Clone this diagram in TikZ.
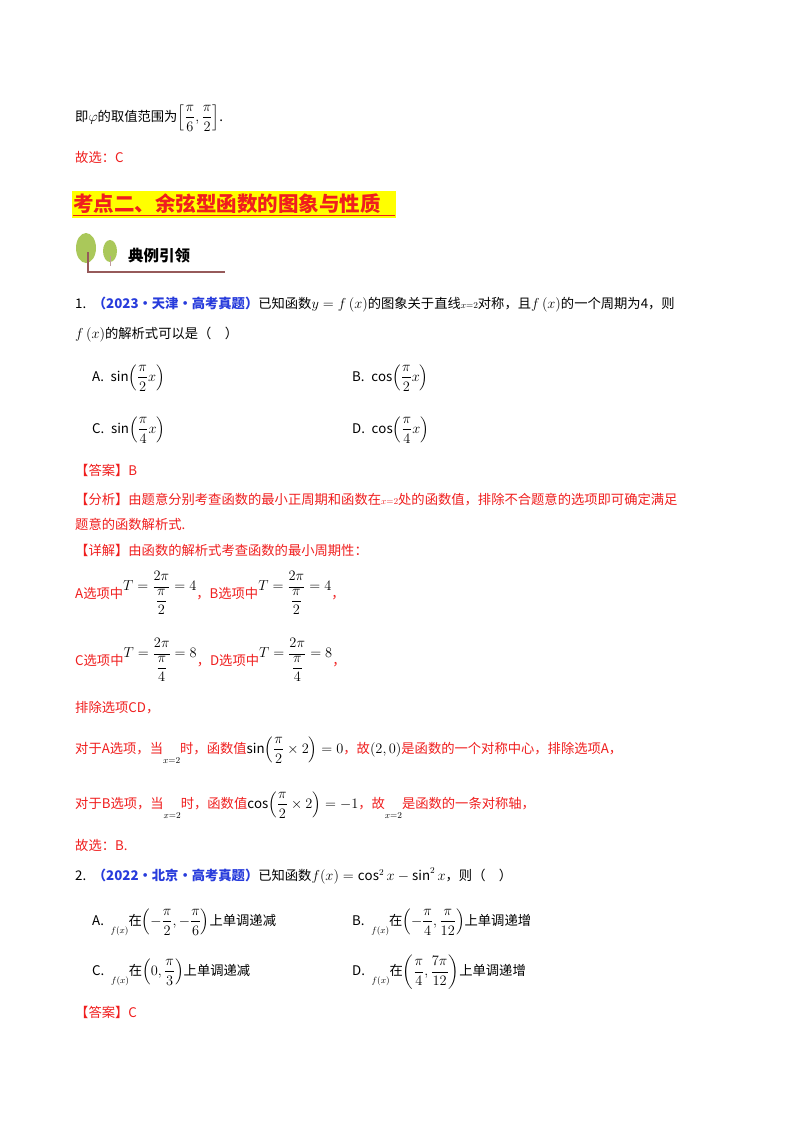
\documentclass[tikz,border=0pt]{standalone}
\usepackage{amsmath}
\usepackage{fontspec}
\setmainfont{Noto Sans CJK SC}
\definecolor{rd}{RGB}{240,30,30}
\definecolor{bl}{RGB}{40,60,220}
\definecolor{yl}{RGB}{255,255,0}
\definecolor{lf}{RGB}{170,200,90}
\definecolor{tr}{RGB}{150,90,90}
\begin{document}
\begin{tikzpicture}[x=1pt,y=-1pt,
  t/.style={anchor=west,inner sep=0pt,font=\fontsize{13.3}{15}\selectfont},
  r/.style={t,text=rd}]
\useasboundingbox (0,0) rectangle (800,1132);
\fill[white] (0,0) rectangle (800,1132);
\node[t] (l1) at (75,118) {即$\varphi$的取值范围为$\left[\dfrac{\pi}{6},\dfrac{\pi}{2}\right]$.};
\node[r] (l2) at (75,157) {故选：C};
\fill[yl] (72,191) rectangle (396,218);
\node[t,font=\fontsize{20.5}{22}\selectfont\bfseries,text=rd] (h) at (73,204) {考点二、余弦型函数的图象与性质};
\draw[rd,line width=1pt] (73,215) -- (395,215);
% icon
\fill[lf] (86,248) ellipse (10 and 15);
\fill[lf] (110,251) ellipse (7 and 11);
\draw[tr,line width=1.2pt] (88,252) -- (88,272) -- (225,272);
\draw[tr!60,line width=1pt] (110,256) -- (110,266);
\node[t,font=\fontsize{15.5}{17}\selectfont\bfseries] (ic) at (128,256) {典例引领};
% Q1
\node[t] (q1) at (75,305) {1.\enspace{\color{bl}\bfseries（2023·天津·高考真题）}已知函数$y=f\left(x\right)$的图象关于直线${\scriptstyle x=2}$对称，且$f\left(x\right)$的一个周期为4，则};
\node[t] (q1b) at (75,335) {$f\left(x\right)$的解析式可以是（\quad）};
\node[t] (oa) at (92,378) {A.\enspace$\sin\!\left(\dfrac{\pi}{2}x\right)$};
\node[t] (ob) at (352,378) {B.\enspace$\cos\!\left(\dfrac{\pi}{2}x\right)$};
\node[t] (oc) at (92,430) {C.\enspace$\sin\!\left(\dfrac{\pi}{4}x\right)$};
\node[t] (od) at (352,430) {D.\enspace$\cos\!\left(\dfrac{\pi}{4}x\right)$};
\node[r] (a1) at (75,470) {【答案】B};
\node[r] (f1) at (75,500) {【分析】由题意分别考查函数的最小正周期和函数在${\scriptstyle x=2}$处的函数值，排除不合题意的选项即可确定满足};
\node[r] (f2) at (75,524) {题意的函数解析式.};
\node[r] (d1) at (75,550) {【详解】由函数的解析式考查函数的最小周期性：};
\node[r] (d2) at (75,593) {A选项中\raisebox{8pt}{\color{black}$T=\dfrac{2\pi}{\dfrac{\pi}{2}}=4$}，B选项中\raisebox{8pt}{\color{black}$T=\dfrac{2\pi}{\dfrac{\pi}{2}}=4$}，};
\node[r] (d3) at (75,660) {C选项中\raisebox{8pt}{\color{black}$T=\dfrac{2\pi}{\dfrac{\pi}{4}}=8$}，D选项中\raisebox{8pt}{\color{black}$T=\dfrac{2\pi}{\dfrac{\pi}{4}}=8$}，};
\node[r] (d4) at (75,708) {排除选项CD，};
\node[r] (d5) at (75,750) {对于A选项，当\raisebox{-10pt}{\color{black}$\scriptstyle x=2$}时，函数值{\color{black}$\sin\!\left(\dfrac{\pi}{2}\times2\right)=0$}，故{\color{black}$\left(2,0\right)$}是函数的一个对称中心，排除选项A，};
\node[r] (d6) at (75,805) {对于B选项，当\raisebox{-10pt}{\color{black}$\scriptstyle x=2$}时，函数值{\color{black}$\cos\!\left(\dfrac{\pi}{2}\times2\right)=-1$}，故\raisebox{-10pt}{\color{black}$\scriptstyle x=2$}是函数的一条对称轴，};
\node[r] (d7) at (75,845) {故选：B.};
% Q2
\node[t] (q2) at (75,876) {2.\enspace{\color{bl}\bfseries（2022·北京·高考真题）}已知函数$f(x)=\cos^2x-\sin^2x$，则（\quad）};
\node[t] (pa) at (92,922) {A.\enspace\raisebox{-8pt}{$\scriptstyle f(x)$}在$\left(-\dfrac{\pi}{2},-\dfrac{\pi}{6}\right)$上单调递减};
\node[t] (pb) at (352,922) {B.\enspace\raisebox{-8pt}{$\scriptstyle f(x)$}在$\left(-\dfrac{\pi}{4},\dfrac{\pi}{12}\right)$上单调递增};
\node[t] (pc) at (92,972) {C.\enspace\raisebox{-8pt}{$\scriptstyle f(x)$}在$\left(0,\dfrac{\pi}{3}\right)$上单调递减};
\node[t] (pd) at (352,972) {D.\enspace\raisebox{-8pt}{$\scriptstyle f(x)$}在$\left(\dfrac{\pi}{4},\dfrac{7\pi}{12}\right)$上单调递增};
\node[r] (a2) at (75,1012) {【答案】C};
\end{tikzpicture}
\end{document}
